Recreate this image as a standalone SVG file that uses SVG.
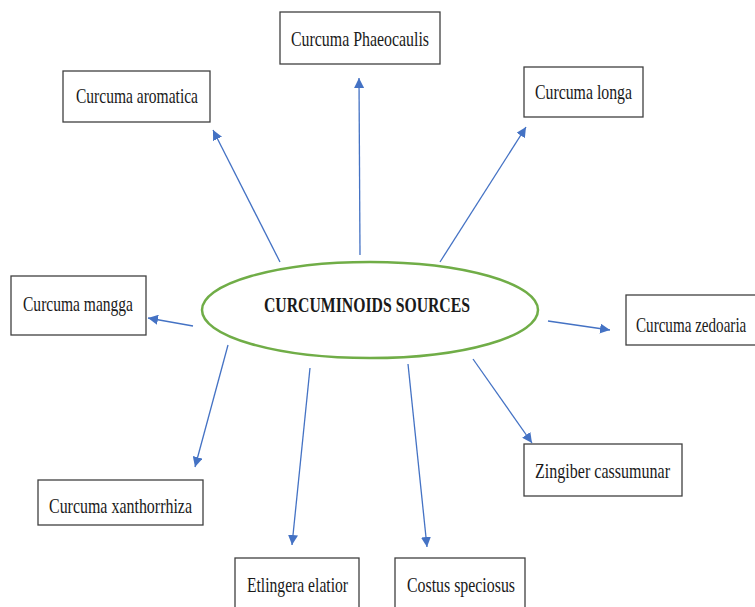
<svg xmlns="http://www.w3.org/2000/svg" width="755" height="607" viewBox="0 0 755 607">
<defs>
<style>
.box{fill:#fff;stroke:#404040;stroke-width:1.3}
.lbl{font-family:"Liberation Serif","Times New Roman",serif;font-size:21px;fill:#1a1a1a}
.title{font-family:"Liberation Serif","Times New Roman",serif;font-size:21px;font-weight:bold;fill:#1a1a1a}
.con{stroke:#4472C4;stroke-width:1.3;fill:none;marker-end:url(#ah)}
</style>
<marker id="ah" viewBox="0 0 10 10" refX="10" refY="5" markerWidth="10" markerHeight="10" markerUnits="userSpaceOnUse" orient="auto">
<path d="M0,0 L10,5 L0,10 z" fill="#4472C4"/>
</marker>
</defs>
<rect width="755" height="607" fill="#fff"/>
<g id="connectors">
<line class="con" x1="280" y1="262" x2="213" y2="130"/>
<line class="con" x1="360" y1="255" x2="359" y2="78"/>
<line class="con" x1="440" y1="262" x2="526" y2="127"/>
<line class="con" x1="193" y1="326" x2="148" y2="318"/>
<line class="con" x1="548" y1="321" x2="610" y2="330"/>
<line class="con" x1="473" y1="359" x2="532" y2="443"/>
<line class="con" x1="408" y1="364" x2="427" y2="547"/>
<line class="con" x1="310" y1="368" x2="292" y2="545"/>
<line class="con" x1="228" y1="345" x2="195" y2="467"/>
</g>
<g id="center">
<ellipse cx="370" cy="310" rx="168" ry="48" fill="#fff" stroke="#70AD47" stroke-width="2.5"/>
<text class="title" x="264" y="312" textLength="206" lengthAdjust="spacingAndGlyphs">CURCUMINOIDS SOURCES</text>
</g>
<g id="phaeocaulis">
<rect class="box" x="280" y="12" width="160" height="52"/>
<text class="lbl" x="291" y="46" textLength="138" lengthAdjust="spacingAndGlyphs">Curcuma Phaeocaulis</text>
</g>
<g id="aromatica">
<rect class="box" x="63" y="71" width="147" height="51"/>
<text class="lbl" x="76" y="103" textLength="122" lengthAdjust="spacingAndGlyphs">Curcuma aromatica</text>
</g>
<g id="longa">
<rect class="box" x="524" y="67" width="119" height="50"/>
<text class="lbl" x="535" y="99" textLength="97" lengthAdjust="spacingAndGlyphs">Curcuma longa</text>
</g>
<g id="mangga">
<rect class="box" x="11" y="276" width="135" height="59"/>
<text class="lbl" x="23" y="311" textLength="110" lengthAdjust="spacingAndGlyphs">Curcuma mangga</text>
</g>
<g id="zedoaria">
<rect class="box" x="626" y="295" width="140" height="50"/>
<text class="lbl" transform="translate(636 332) scale(0.72 1)" x="0" y="0">Curcuma zedoaria</text>
</g>
<g id="zingiber">
<rect class="box" x="524" y="444" width="158" height="52"/>
<text class="lbl" x="535" y="478" textLength="135" lengthAdjust="spacingAndGlyphs">Zingiber cassumunar</text>
</g>
<g id="xanthorrhiza">
<rect class="box" x="38" y="480" width="165" height="45"/>
<text class="lbl" x="49" y="513" textLength="143" lengthAdjust="spacingAndGlyphs">Curcuma xanthorrhiza</text>
</g>
<g id="etlingera">
<rect class="box" x="235" y="558" width="124" height="60"/>
<text class="lbl" x="247" y="592" textLength="101" lengthAdjust="spacingAndGlyphs">Etlingera elatior</text>
</g>
<g id="costus">
<rect class="box" x="395" y="558" width="130" height="60"/>
<text class="lbl" x="407" y="592" textLength="108" lengthAdjust="spacingAndGlyphs">Costus speciosus</text>
</g>
</svg>
